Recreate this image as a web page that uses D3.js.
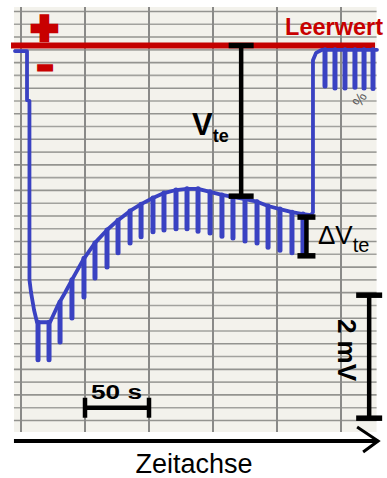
<!DOCTYPE html>
<html>
<head>
<meta charset="utf-8">
<script src="https://cdn.jsdelivr.net/npm/d3@7"></script>
<style>
  html, body { margin: 0; padding: 0; background: #ffffff; }
  svg { display: block; font-family: "Liberation Sans", Arial, sans-serif; }
</style>
</head>
<body>
<svg id="chart" width="387" height="478"></svg>
<script>
// Baseline of the recorder trace: time (s) and potential (mV) relative to the Leerwert
const traceTime = [-4.7, 4.7, 4.7, 6.6, 6.6, 7.8, 10.2, 12.5, 22.7, 28.9, 34.4, 39.8, 48.4, 57.8,
  67.2, 75.8, 85.2, 93.8, 103.1, 111.7, 121.1, 129.7, 138.3, 147.7, 157.0, 165.6, 175.0,
  184.4, 193.0, 202.3, 211.7, 220.3, 226.6, 228.1, 228.1, 230.5, 235.2, 278.1];
const traceValue = [-0.09, -0.09, -0.89, -0.90, -3.81, -4.01, -4.30, -4.50, -4.50, -4.22, -4.02,
  -3.81, -3.49, -3.21, -3.00, -2.84, -2.69, -2.58, -2.48, -2.40, -2.35, -2.33, -2.33, -2.38,
  -2.43, -2.46, -2.50, -2.54, -2.61, -2.66, -2.71, -2.74, -2.76, -2.71, -0.24, -0.12, -0.07, -0.07];

// Stimulus pulses during the measurement: time (s), start and end of each deflection (mV)
const pulseTime = [13.3, 21.9, 30.5, 39.8, 49.2, 57.8, 67.2, 75.8, 85.2, 93.8, 103.1, 111.7,
  121.1, 129.7, 138.3, 147.7, 157.0, 165.6, 175.0, 184.4, 193.0, 202.3, 211.7, 220.3];
const pulseTop = [-4.50, -4.50, -4.17, -3.81, -3.46, -3.21, -3.00, -2.84, -2.69, -2.58, -2.48,
  -2.40, -2.35, -2.33, -2.33, -2.38, -2.43, -2.46, -2.50, -2.54, -2.61, -2.66, -2.71, -2.74];
const pulseBottom = [-5.11, -5.11, -4.82, -4.43, -4.09, -3.78, -3.60, -3.37, -3.21, -3.11, -3.03,
  -3.00, -2.98, -2.98, -3.02, -3.05, -3.10, -3.13, -3.18, -3.21, -3.28, -3.33, -3.37, -3.41];

// Pulses after the return to the Leerwert
const restPulseTime = [237.5, 245.3, 253.1, 260.9, 268.0, 275.0];
const restPulseTop = [-0.07, -0.07, -0.07, -0.07, -0.07, -0.07];
const restPulseBottom = [-0.66, -0.69, -0.69, -0.68, -0.69, -0.70];

// Annotations
const leerwert = 0;                               // mV
const vte = { time: 172, value: -2.45 };          // V_te below the Leerwert
const dVte = { time: 223, top: -2.79, bottom: -3.42 };
const scaleBarV = { time: 272, top: -4.06, bottom: -6.06 };   // 2 mV
const scaleBarT = { start: 50, end: 100, value: -5.89 };      // 50 s
const timeGrid = [0, 50, 100, 150, 200, 250];

const svg = d3.select("#chart");

// 50 s per major paper division; 2 mV per scale bar
const x = d3.scaleLinear().domain([0, 250]).range([21, 341]);
const y = d3.scaleLinear().domain([0, -2]).range([45.5, 168.5]);

// Paper strip
const paperLeft = x(-5.5), paperRight = x(277.8), paperTop = 7, paperBottom = 432;
svg.append("rect")
  .attr("x", paperLeft).attr("y", paperTop)
  .attr("width", paperRight - paperLeft).attr("height", paperBottom - paperTop)
  .attr("fill", "#f3f2ec");

// Horizontal ruling of the paper
const rowY = d3.range(33).map(i => 11.5 + i * 12.78);
svg.append("g").selectAll("line").data(rowY).join("line")
  .attr("x1", paperLeft).attr("x2", paperRight)
  .attr("y1", d => d).attr("y2", d => d)
  .attr("stroke", (d, i) => i % 2 ? "#a2a29e" : "#949490")
  .attr("stroke-width", 1.6);

// Vertical ruling (time divisions)
svg.append("g").selectAll("line").data(timeGrid).join("line")
  .attr("x1", d => x(d)).attr("x2", d => x(d))
  .attr("y1", paperTop).attr("y2", paperBottom)
  .attr("stroke", "#8a8a88").attr("stroke-width", 2);

// Leerwert line
svg.append("line")
  .attr("x1", x(-7.8)).attr("x2", x(276.6))
  .attr("y1", y(leerwert)).attr("y2", y(leerwert))
  .attr("stroke", "#c40000").attr("stroke-width", 6);

// Recorder trace
const blue = "#3a42c2";
const traceData = traceTime.map((t, i) => [t, traceValue[i]]);
svg.append("path")
  .datum(traceData)
  .attr("d", d3.line().x(d => x(d[0])).y(d => y(d[1])).curve(d3.curveLinear))
  .attr("fill", "none").attr("stroke", blue).attr("stroke-width", 3.8)
  .attr("stroke-linejoin", "round").attr("stroke-linecap", "round");

const allPulses = pulseTime.map((t, i) => ({ t, top: pulseTop[i], bottom: pulseBottom[i] }))
  .concat(restPulseTime.map((t, i) => ({ t, top: restPulseTop[i], bottom: restPulseBottom[i] })));
svg.append("g").selectAll("line").data(allPulses).join("line")
  .attr("x1", d => x(d.t)).attr("x2", d => x(d.t))
  .attr("y1", d => y(d.top)).attr("y2", d => y(d.bottom))
  .attr("stroke", blue).attr("stroke-width", 5).attr("stroke-linecap", "round");

// Signs of the polarity
svg.append("text").attr("x", 44.5).attr("y", 43.6).attr("text-anchor", "middle")
  .attr("font-size", 46).attr("font-weight", "bold")
  .attr("fill", "#c80000").attr("stroke", "#c80000").attr("stroke-width", 4.5)
  .text("+");
svg.append("text").attr("x", 45).attr("y", 74).attr("text-anchor", "middle")
  .attr("font-size", 22).attr("font-weight", "bold")
  .attr("fill", "#c80000").attr("stroke", "#c80000").attr("stroke-width", 5)
  .text("–");
svg.append("text").attr("x", 383).attr("y", 35).attr("text-anchor", "end")
  .attr("font-size", 23.5).attr("font-weight", "bold").attr("fill", "#c80000")
  .text("Leerwert");

// Bracket helper: vertical bar with caps
function vBracket(t, v0, v1, capHalf, width) {
  const g = svg.append("g").attr("stroke", "#000").attr("stroke-width", width);
  g.append("line").attr("x1", x(t)).attr("x2", x(t)).attr("y1", y(v0)).attr("y2", y(v1));
  [v0, v1].forEach(v => g.append("line")
    .attr("x1", x(t) - capHalf).attr("x2", x(t) + capHalf)
    .attr("y1", y(v)).attr("y2", y(v)).attr("stroke-width", 5.5));
}
vBracket(vte.time, leerwert, vte.value, 12.5, 4.5);
vBracket(dVte.time, dVte.top, dVte.bottom, 9, 4.5);
vBracket(scaleBarV.time, scaleBarV.top, scaleBarV.bottom, 13, 4.5);

// V_te label
const tVte = svg.append("text").attr("x", 192).attr("y", 135)
  .attr("font-weight", "bold").attr("fill", "#000");
tVte.append("tspan").attr("font-size", 31).text("V");
tVte.append("tspan").attr("font-size", 18).attr("dy", 7).text("te");

// ΔV_te label
const tDv = svg.append("text").attr("x", 318).attr("y", 244).attr("fill", "#000");
tDv.append("tspan").attr("font-size", 26).text("ΔV");
tDv.append("tspan").attr("font-size", 20).attr("dy", 8).text("te");

// 2 mV label
svg.append("text").attr("transform", "translate(338,350) rotate(90)")
  .attr("text-anchor", "middle").attr("font-size", 26).attr("font-weight", "bold")
  .text("2 mV");

// 50 s scale bar
const gT = svg.append("g").attr("stroke", "#000").attr("stroke-width", 4.5);
gT.append("line").attr("x1", x(scaleBarT.start)).attr("x2", x(scaleBarT.end))
  .attr("y1", y(scaleBarT.value)).attr("y2", y(scaleBarT.value));
[scaleBarT.start, scaleBarT.end].forEach(t => gT.append("line")
  .attr("x1", x(t)).attr("x2", x(t))
  .attr("y1", y(scaleBarT.value) - 10).attr("y2", y(scaleBarT.value) + 10));
svg.append("text").attr("x", 91).attr("y", 399)
  .attr("font-size", 20).attr("font-weight", "bold")
  .attr("textLength", 51).attr("lengthAdjust", "spacingAndGlyphs")
  .text("50 s");

// Faint margin note on the paper
svg.append("text").attr("transform", "translate(364,102) rotate(-60)")
  .attr("text-anchor", "middle").attr("font-size", 15).attr("fill", "#5a5a5a")
  .text("%");

// Time axis with open arrowhead
const axisY = 441;
svg.append("line").attr("x1", x(-5.5)).attr("x2", x(279))
  .attr("y1", axisY).attr("y2", axisY)
  .attr("stroke", "#000").attr("stroke-width", 4);
svg.append("path")
  .attr("d", `M${x(279) - 21},${axisY - 14} L${x(279)},${axisY} L${x(279) - 15},${axisY + 11}`)
  .attr("fill", "none").attr("stroke", "#000").attr("stroke-width", 3)
  .attr("stroke-linejoin", "miter");
svg.append("text").attr("x", 194).attr("y", 473).attr("text-anchor", "middle")
  .attr("font-size", 27).attr("fill", "#000")
  .text("Zeitachse");
</script>
</body>
</html>
